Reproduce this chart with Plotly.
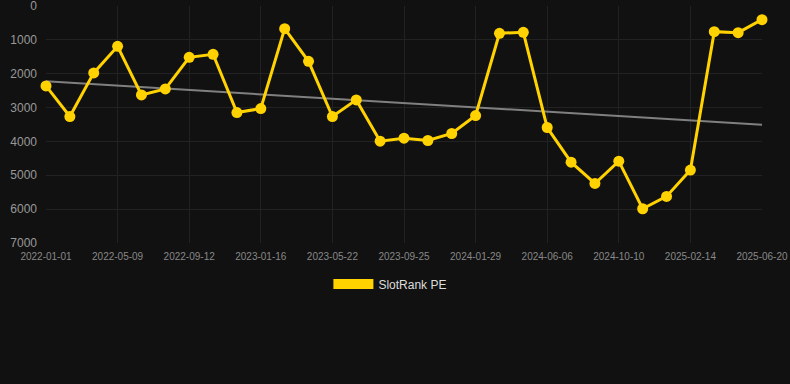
import plotly.graph_objects as go

dates = [
    "2022-01-01", "2022-02-13", "2022-03-27", "2022-05-09", "2022-06-20", "2022-08-01",
    "2022-09-12", "2022-10-24", "2022-12-05", "2023-01-16", "2023-02-27", "2023-04-10",
    "2023-05-22", "2023-07-03", "2023-08-14", "2023-09-25", "2023-11-06", "2023-12-18",
    "2024-01-29", "2024-03-11", "2024-04-23", "2024-06-06", "2024-07-18", "2024-08-29",
    "2024-10-10", "2024-11-21", "2025-01-02", "2025-02-14", "2025-03-28", "2025-05-09",
    "2025-06-20",
]
rank_pe = [
    2360, 3265, 1976, 1190, 2625, 2448, 1515, 1426, 3147, 3029, 669,
    1633, 3265, 2773, 3993, 3904, 3973, 3766, 3235, 806, 777,
    3589, 4612, 5242, 4582, 5988, 5624, 4847, 757, 787, 403,
]
trend_dates = [dates[0], dates[-1]]
trend_values = [2222, 3510]
tick_dates = dates[::3]
y_ticks = [0, 1000, 2000, 3000, 4000, 5000, 6000, 7000]

GOLD = "#FFD200"
BG = "#111111"
GRID = "#222222"

fig = go.Figure()
fig.add_trace(go.Scatter(
    x=trend_dates, y=trend_values, mode="lines",
    line=dict(color="#808080", width=2), showlegend=False, hoverinfo="skip",
))
fig.add_trace(go.Scatter(
    x=dates, y=rank_pe, mode="lines+markers",
    line=dict(color=GOLD, width=3), marker=dict(color=GOLD, size=11),
    showlegend=False, name="SlotRank PE", cliponaxis=False,
))
fig.add_trace(go.Scatter(
    x=[None], y=[None], mode="lines", name="SlotRank PE",
    line=dict(color=GOLD, width=11), showlegend=True,
))

fig.update_layout(
    width=790, height=384,
    paper_bgcolor=BG, plot_bgcolor=BG,
    margin=dict(l=46, r=28, t=6, b=141, autoexpand=False),
    font=dict(family="Liberation Sans, Arial, sans-serif", color="#888888"),
    showlegend=True,
    legend=dict(
        orientation="h", x=0.481, xanchor="center", y=-0.173, yanchor="middle",
        font=dict(size=12, color="#dddddd"), itemwidth=40,
    ),
)
fig.update_xaxes(
    type="category", categoryorder="array", categoryarray=dates,
    range=[0, len(dates) - 1], automargin=False,
    tickmode="array", tickvals=tick_dates, ticktext=tick_dates,
    tickfont=dict(size=10, color="#888888"),
    showgrid=True, gridcolor=GRID, gridwidth=1, zeroline=False,
    showline=False, ticks="", ticklabelstandoff=6, ticklabeloverflow="allow",
)
fig.update_yaxes(
    range=[7000, 0], tickmode="array", tickvals=y_ticks, automargin=False,
    ticktext=[str(v) for v in y_ticks],
    tickfont=dict(size=12, color="#999999"),
    showgrid=True, gridcolor=GRID, gridwidth=1, zeroline=False,
    showline=False, ticks="", ticklabelstandoff=8, ticklabeloverflow="allow",
)

fig.write_html(
    "out.html",
    config={"displayModeBar": False},
    post_script="document.body.style.margin='0';document.body.style.background='#111111';",
)
